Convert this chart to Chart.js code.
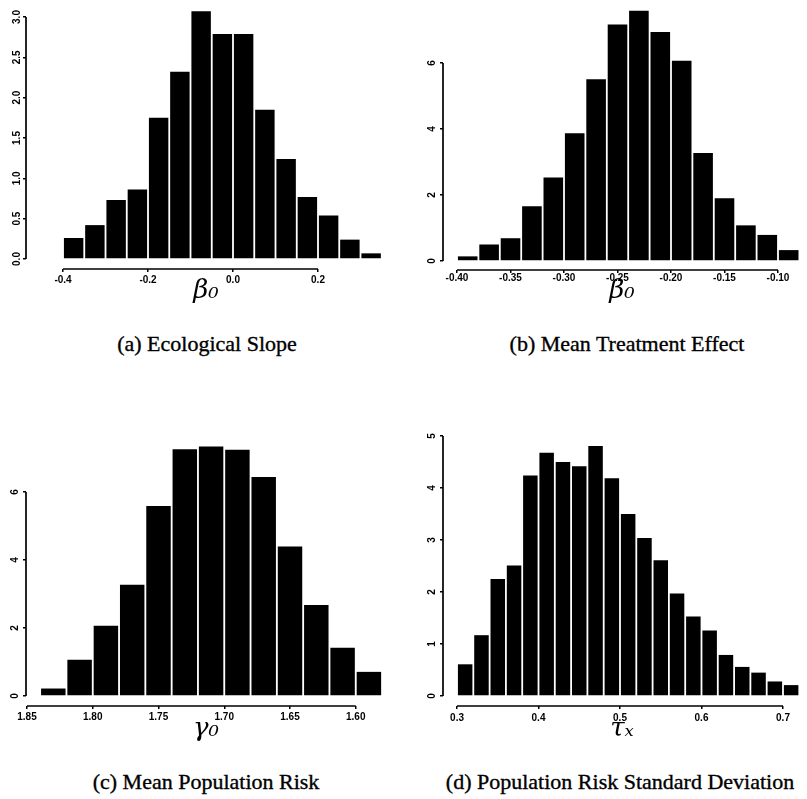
<!DOCTYPE html>
<html>
<head>
<meta charset="utf-8">
<title>posterior histograms</title>
<script src="https://cdn.jsdelivr.net/npm/chart.js@4.4.1/dist/chart.umd.min.js"></script>
<style>
html, body { margin:0; padding:0; background:#fff; }
#wrap { position:relative; width:807px; height:799px; overflow:hidden; background:#fff; }
canvas { position:absolute; }
.cap { position:absolute; font-family:"Liberation Serif", serif; font-size:22px; line-height:22px; white-space:nowrap; transform:translateX(-50%); color:#000; -webkit-text-stroke:0.35px #000; }
</style>
</head>
<body>
<div id="wrap">
	<canvas id="histA" width="400" height="320" style="left:0;top:0"></canvas>
	<canvas id="histB" width="407" height="320" style="left:400px;top:0"></canvas>
	<canvas id="histC" width="400" height="345" style="left:0;top:400px"></canvas>
	<canvas id="histD" width="407" height="345" style="left:400px;top:400px"></canvas>
	<div class="cap" style="left:207px;top:333px">(a) Ecological Slope</div>
	<div class="cap" style="left:627px;top:333px">(b) Mean Treatment Effect</div>
	<div class="cap" style="left:206px;top:771px">(c) Mean Population Risk</div>
	<div class="cap" style="left:620px;top:771px">(d) Population Risk Standard Deviation</div>
</div>
<script>
// (a) ecological slope
var binsA = [-0.375, -0.325, -0.275, -0.225, -0.175, -0.125, -0.075, -0.025, 0.025, 0.075, 0.125, 0.175, 0.225, 0.275, 0.325];
var densA = [0.26, 0.42, 0.73, 0.86, 1.75, 2.32, 3.07, 2.79, 2.79, 1.85, 1.24, 0.77, 0.54, 0.24, 0.07];
var xTicksA = [-0.4, -0.2, 0, 0.2];
var xLabelsA = ['-0.4', '-0.2', '0.0', '0.2'];
var yTicksA = [0, 0.5, 1, 1.5, 2, 2.5, 3];
var yLabelsA = ['0.0', '0.5', '1.0', '1.5', '2.0', '2.5', '3.0'];

// (b) mean treatment effect
var binsB = [-0.39, -0.37, -0.35, -0.33, -0.31, -0.29, -0.27, -0.25, -0.23, -0.21, -0.19, -0.17, -0.15, -0.13, -0.11, -0.09];
var densB = [0.14, 0.50, 0.69, 1.66, 2.53, 3.87, 5.51, 7.17, 7.58, 6.94, 6.07, 3.27, 1.90, 1.08, 0.79, 0.33];
var xTicksB = [-0.40, -0.35, -0.30, -0.25, -0.20, -0.15, -0.10];
var xLabelsB = ['-0.40', '-0.35', '-0.30', '-0.25', '-0.20', '-0.15', '-0.10'];
var yTicksB = [0, 2, 4, 6];
var yLabelsB = ['0', '2', '4', '6'];

// (c) mean population risk
var binsC = [-1.83, -1.81, -1.79, -1.77, -1.75, -1.73, -1.71, -1.69, -1.67, -1.65, -1.63, -1.61, -1.59];
var densC = [0.22, 1.07, 2.07, 3.27, 5.59, 7.26, 7.34, 7.24, 6.44, 4.40, 2.68, 1.42, 0.71];
var xTicksC = [-1.85, -1.80, -1.75, -1.70, -1.65, -1.60];
var xLabelsC = ['1.85', '1.80', '1.75', '1.70', '1.65', '1.60'];
var yTicksC = [0, 2, 4, 6];
var yLabelsC = ['0', '2', '4', '6'];

// (d) population risk sd
var binsD = [0.31, 0.33, 0.35, 0.37, 0.39, 0.41, 0.43, 0.45, 0.47, 0.49, 0.51, 0.53, 0.55, 0.57, 0.59, 0.61, 0.63, 0.65, 0.67, 0.69, 0.71];
var densD = [0.61, 1.17, 2.25, 2.51, 4.24, 4.68, 4.50, 4.42, 4.81, 4.19, 3.50, 3.04, 2.61, 1.97, 1.53, 1.26, 0.79, 0.56, 0.45, 0.28, 0.21];
var xTicksD = [0.3, 0.4, 0.5, 0.6, 0.7];
var xLabelsD = ['0.3', '0.4', '0.5', '0.6', '0.7'];
var yTicksD = [0, 1, 2, 3, 4, 5];
var yLabelsD = ['0', '1', '2', '3', '4', '5'];

var tickFont = {family: 'Liberation Sans', weight: 'bold', size: 10};

// R style axis line, only from first to last tick
var rAxis = {
	id: 'rAxis',
	afterDraw: function(chart) {
		var ctx = chart.ctx;
		var x = chart.scales.x, y = chart.scales.y;
		var xt = x.ticks, yt = y.ticks;
		ctx.save();
		ctx.strokeStyle = '#000';
		ctx.lineWidth = 1.7;
		ctx.beginPath();
		ctx.moveTo(x.getPixelForValue(xt[0].value), x.top);
		ctx.lineTo(x.getPixelForValue(xt[xt.length - 1].value), x.top);
		ctx.moveTo(y.right, y.getPixelForValue(yt[0].value));
		ctx.lineTo(y.right, y.getPixelForValue(yt[yt.length - 1].value));
		ctx.stroke();
		ctx.restore();
	}
};

function makeHist(id, o) {
	return new Chart(document.getElementById(id), {
		type: 'bar',
		data: {
			datasets: [{
				data: o.bins.map(function(b, i) { return {x: b, y: o.dens[i]}; }),
				backgroundColor: '#000',
				borderWidth: 0,
				barPercentage: o.barPct,
				categoryPercentage: 1
			}]
		},
		options: {
			responsive: false,
			animation: false,
			events: [],
			layout: {padding: o.pad},
			plugins: {legend: {display: false}, tooltip: {enabled: false}},
			scales: {
				x: {
					type: 'linear',
					offset: false,
					min: o.xMin,
					max: o.xMax,
					afterBuildTicks: function(s) { s.ticks = o.xTicks.map(function(v) { return {value: v}; }); },
					afterFit: function(s) { s.height = o.xH; s.paddingLeft = 0; s.paddingRight = 0; },
					border: {display: false},
					grid: {offset: false, drawOnChartArea: false, drawTicks: true, tickLength: 3, color: '#000', lineWidth: 1.5},
					ticks: {
						autoSkip: false, minRotation: 0, maxRotation: 0,
						padding: o.xPad, color: '#000', font: tickFont,
						callback: function(v, i) { return o.xLabels[i]; }
					},
					title: {
						display: true, text: o.title, color: '#000',
						font: {family: 'DejaVu Serif', style: 'italic', size: 26},
						padding: {top: 0, bottom: o.titlePad}
					}
				},
				y: {
					type: 'linear',
					min: o.yMin,
					max: o.yMax,
					afterBuildTicks: function(s) { s.ticks = o.yTicks.map(function(v) { return {value: v}; }); },
					afterFit: function(s) { s.width = o.yW; s.paddingTop = 0; s.paddingBottom = 0; },
					border: {display: false},
					grid: {drawOnChartArea: false, drawTicks: true, tickLength: 3, color: '#000', lineWidth: 1.5},
					ticks: {
						minRotation: 90, maxRotation: 90, crossAlign: 'center',
						padding: o.yPad, color: '#000', font: tickFont,
						callback: function(v, i) { return o.yLabels[i]; }
					}
				}
			}
		},
		plugins: [rAxis]
	});
}

makeHist('histA', {
	bins: binsA, dens: densA, xTicks: xTicksA, xLabels: xLabelsA, yTicks: yTicksA, yLabels: yLabelsA,
	title: 'β₀', barPct: 0.915,
	pad: {top: 8, right: 14, left: 0, bottom: 0}, yW: 26, xH: 51,
	xMin: -0.4871, xMax: 0.36, yMin: -0.124, yMax: 3.1115,
	xPad: 2, yPad: -1, titlePad: 13
});
makeHist('histB', {
	bins: binsB, dens: densB, xTicks: xTicksB, xLabels: xLabelsB, yTicks: yTicksB, yLabels: yLabelsB,
	title: 'β₀', barPct: 0.916,
	pad: {top: 9, right: 6, left: 0, bottom: 0}, yW: 43, xH: 50,
	xMin: -0.4131, xMax: -0.0785, yMin: -0.273, yMax: 7.636,
	xPad: -1, yPad: 4.5, titlePad: 13
});
makeHist('histC', {
	bins: binsC, dens: densC, xTicks: xTicksC, xLabels: xLabelsC, yTicks: yTicksC, yLabels: yLabelsC,
	title: 'γ₀', barPct: 0.93,
	pad: {top: 40, right: 14, left: 0, bottom: 0}, yW: 26, xH: 39,
	xMin: -1.85076, xMax: -1.577, yMin: -0.294, yMax: 7.53,
	xPad: 2, yPad: 5.2, titlePad: 0
});
makeHist('histD', {
	bins: binsD, dens: densD, xTicks: xTicksD, xLabels: xLabelsD, yTicks: yTicksD, yLabels: yLabelsD,
	title: 'τₓ', barPct: 0.89,
	pad: {top: 34, right: 6, left: 0, bottom: 0}, yW: 43, xH: 39,
	xMin: 0.2828, xMax: 0.7221, yMin: -0.192, yMax: 5.04,
	xPad: 3, yPad: 5.2, titlePad: 0
});
</script>
</body>
</html>
